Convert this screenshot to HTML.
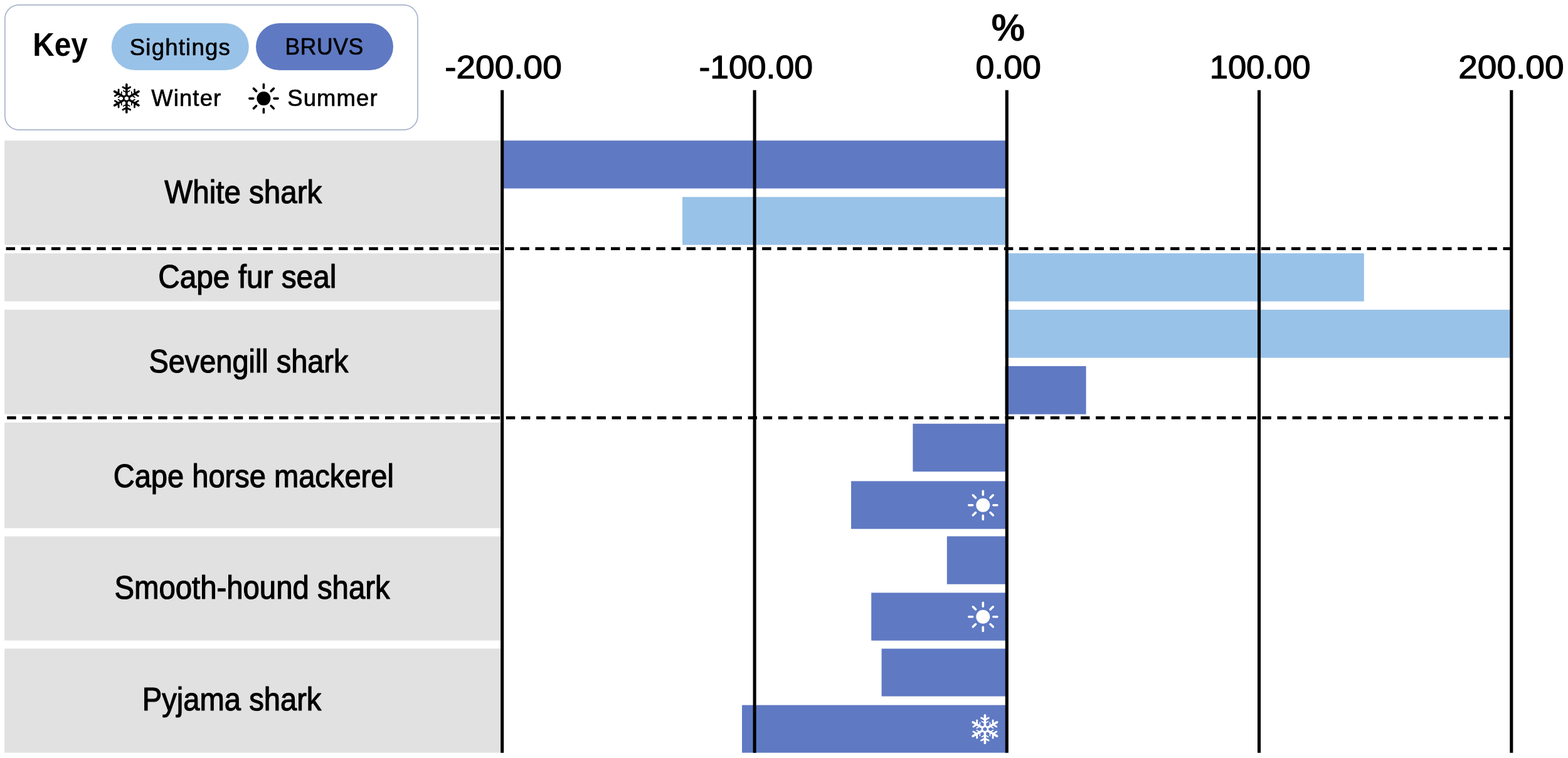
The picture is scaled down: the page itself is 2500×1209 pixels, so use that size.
<!DOCTYPE html>
<html lang="en">
<head>
<meta charset="utf-8">
<title>Change in sightings and BRUVS detections by species</title>
<style>
html,body{margin:0;padding:0;background:#fff;}
body{width:2500px;height:1209px;overflow:hidden;}
svg{display:block;}
svg text{font-family:"Liberation Sans",sans-serif;fill:#000;}
</style>
</head>
<body>
<svg width="2500" height="1209" viewBox="0 0 2500 1209">
  <defs>
    <g id="sun">
      <circle cx="0" cy="0" r="11"/>
      <path d="M16.60 0.00L22.60 0.00M11.74 11.74L15.98 15.98M0.00 16.60L0.00 22.60M-11.74 11.74L-15.98 15.98M-16.60 0.00L-22.60 0.00M-11.74 -11.74L-15.98 -15.98M-0.00 -16.60L-0.00 -22.60M11.74 -11.74L15.98 -15.98" fill="none" stroke="currentColor" stroke-width="3.6" stroke-linecap="round"/>
    </g>
    <g id="arm" fill="none" stroke="currentColor" stroke-linecap="round">
      <path d="M0 -5.5V-22.2" stroke-width="3.6"/>
      <path d="M-5.9 -18L0 -14.9L5.9 -18" stroke-width="2.8" stroke-linejoin="round"/>
      <path d="M-5.1 -12.2L0 -9.5L5.1 -12.2" stroke-width="1.7" stroke-linejoin="round"/>
    </g>
    <g id="snow">
      <use href="#arm" transform="rotate(0)"/>
      <use href="#arm" transform="rotate(60)"/>
      <use href="#arm" transform="rotate(120)"/>
      <use href="#arm" transform="rotate(180)"/>
      <use href="#arm" transform="rotate(240)"/>
      <use href="#arm" transform="rotate(300)"/>
      <polygon points="0.00,-5.00 4.33,-2.50 4.33,2.50 0.00,5.00 -4.33,2.50 -4.33,-2.50" fill="none" stroke="currentColor" stroke-width="2.7" stroke-linejoin="round"/>
    </g>
  </defs>
  <!-- row label backgrounds -->
  <rect x="7.2" y="224.2" width="793.30" height="166.50" fill="#e1e1e1"/>
  <rect x="7.2" y="404.1" width="793.30" height="76.40" fill="#e1e1e1"/>
  <rect x="7.2" y="494" width="793.30" height="166.60" fill="#e1e1e1"/>
  <rect x="7.2" y="674" width="793.30" height="168.40" fill="#e1e1e1"/>
  <rect x="7.2" y="855.5" width="793.30" height="166.10" fill="#e1e1e1"/>
  <rect x="7.2" y="1034.5" width="793.30" height="166.10" fill="#e1e1e1"/>
  <!-- bars -->
  <rect x="800.7" y="224.2" width="804.50" height="76.40" fill="#5f7ac3"/>
  <rect x="1088" y="314.2" width="517.20" height="76.40" fill="#99c2e8"/>
  <rect x="1602.5" y="404" width="572.30" height="76.70" fill="#99c2e8"/>
  <rect x="1602.5" y="494" width="807.30" height="76.70" fill="#99c2e8"/>
  <rect x="1602.5" y="584" width="129.10" height="76.70" fill="#5f7ac3"/>
  <rect x="1455.4" y="675.8" width="149.80" height="76.40" fill="#5f7ac3"/>
  <rect x="1357" y="767.4" width="248.20" height="76.20" fill="#5f7ac3"/>
  <rect x="1509.8" y="855.4" width="95.40" height="76.40" fill="#5f7ac3"/>
  <rect x="1389.2" y="945.4" width="216.00" height="76.30" fill="#5f7ac3"/>
  <rect x="1405.6" y="1034.6" width="199.60" height="76.00" fill="#5f7ac3"/>
  <rect x="1183" y="1124.6" width="422.20" height="76.00" fill="#5f7ac3"/>
  <!-- season markers inside bars -->
  <use href="#sun" transform="translate(1567.3 805.8)" color="#fff" fill="#fff"/>
  <use href="#sun" transform="translate(1567.3 983.8)" color="#fff" fill="#fff"/>
  <use href="#snow" transform="translate(1570.4 1163)" color="#fff"/>
  <!-- group separators -->
  <path d="M9.6 396.7H2410" fill="none" stroke="#000" stroke-width="4.8" stroke-dasharray="14.45 9.66"/>
  <path d="M11.2 666.4H2410" fill="none" stroke="#000" stroke-width="4.8" stroke-dasharray="14.45 9.66"/>
  <!-- axis grid lines -->
  <path d="M800.7 143.7V1200.7" fill="none" stroke="#000" stroke-width="5.1"/>
  <path d="M1203.1 143.7V1200.7" fill="none" stroke="#000" stroke-width="5.1"/>
  <path d="M1605.3 143.7V1200.7" fill="none" stroke="#000" stroke-width="5.1"/>
  <path d="M2007.5 143.7V1200.7" fill="none" stroke="#000" stroke-width="5.1"/>
  <path d="M2409.8 143.7V1200.7" fill="none" stroke="#000" stroke-width="5.1"/>
  <!-- axis labels -->
  <text transform="translate(709.20 124.50) scale(1.0622 1)" font-size="51.8" stroke="#000" stroke-width="1.2" stroke-linejoin="round">-200.00</text>
  <text transform="translate(1114.46 124.50) scale(1.0331 1)" font-size="51.8" stroke="#000" stroke-width="1.2" stroke-linejoin="round">-100.00</text>
  <text transform="translate(1555.52 124.50) scale(1.0358 1)" font-size="51.8" stroke="#000" stroke-width="1.2" stroke-linejoin="round">0.00</text>
  <text transform="translate(1928.66 124.50) scale(1.0147 1)" font-size="51.8" stroke="#000" stroke-width="1.2" stroke-linejoin="round">100.00</text>
  <text transform="translate(2325.25 124.50) scale(1.0621 1)" font-size="51.8" stroke="#000" stroke-width="1.2" stroke-linejoin="round">200.00</text>
  <text transform="translate(1580.49 65.20) scale(0.9914 1)" font-size="61" font-weight="bold">%</text>
  <!-- species labels -->
  <text transform="translate(262.36 323.60) scale(0.9143 1)" font-size="52" stroke="#000" stroke-width="1.2" stroke-linejoin="round">White shark</text>
  <text transform="translate(252.21 459.00) scale(0.9189 1)" font-size="52" stroke="#000" stroke-width="1.2" stroke-linejoin="round">Cape fur seal</text>
  <text transform="translate(237.49 594.00) scale(0.9017 1)" font-size="52" stroke="#000" stroke-width="1.2" stroke-linejoin="round">Sevengill shark</text>
  <text transform="translate(180.65 776.60) scale(0.9052 1)" font-size="52" stroke="#000" stroke-width="1.2" stroke-linejoin="round">Cape horse mackerel</text>
  <text transform="translate(182.47 955.40) scale(0.9099 1)" font-size="52" stroke="#000" stroke-width="1.2" stroke-linejoin="round">Smooth-hound shark</text>
  <text transform="translate(226.83 1133.40) scale(0.9070 1)" font-size="52" stroke="#000" stroke-width="1.2" stroke-linejoin="round">Pyjama shark</text>
  <!-- legend -->
  <rect x="7.85" y="7.85" width="658.1" height="199.3" rx="22.2" ry="22.2" fill="#fff" stroke="#a9b3cc" stroke-width="1.7"/>
  <text transform="translate(52.19 88.50) scale(0.9249 1)" font-size="51.7" font-weight="bold">Key</text>
  <rect x="177.8" y="37" width="219" height="75" rx="37.5" ry="37.5" fill="#99c2e8"/>
  <rect x="408" y="37" width="219" height="75" rx="37.5" ry="37.5" fill="#5f7ac3"/>
  <text transform="translate(206.70 87.50) scale(0.9950 1)" font-size="36.8" letter-spacing="1.2" stroke="#000" stroke-width="0.7" stroke-linejoin="round">Sightings</text>
  <text transform="translate(454.51 87.40) scale(0.9606 1)" font-size="37" letter-spacing="0.6" stroke="#000" stroke-width="0.7" stroke-linejoin="round">BRUVS</text>
  <use href="#snow" transform="translate(201.8 157)" color="#000"/>
  <text transform="translate(241.17 168.50) scale(0.9882 1)" font-size="36.8" letter-spacing="1.2" stroke="#000" stroke-width="0.7" stroke-linejoin="round">Winter</text>
  <use href="#sun" transform="translate(420.4 157.1)" color="#000" fill="#000"/>
  <text transform="translate(458.21 168.50) scale(0.9888 1)" font-size="36.8" letter-spacing="1.2" stroke="#000" stroke-width="0.7" stroke-linejoin="round">Summer</text>
</svg>
</body>
</html>
